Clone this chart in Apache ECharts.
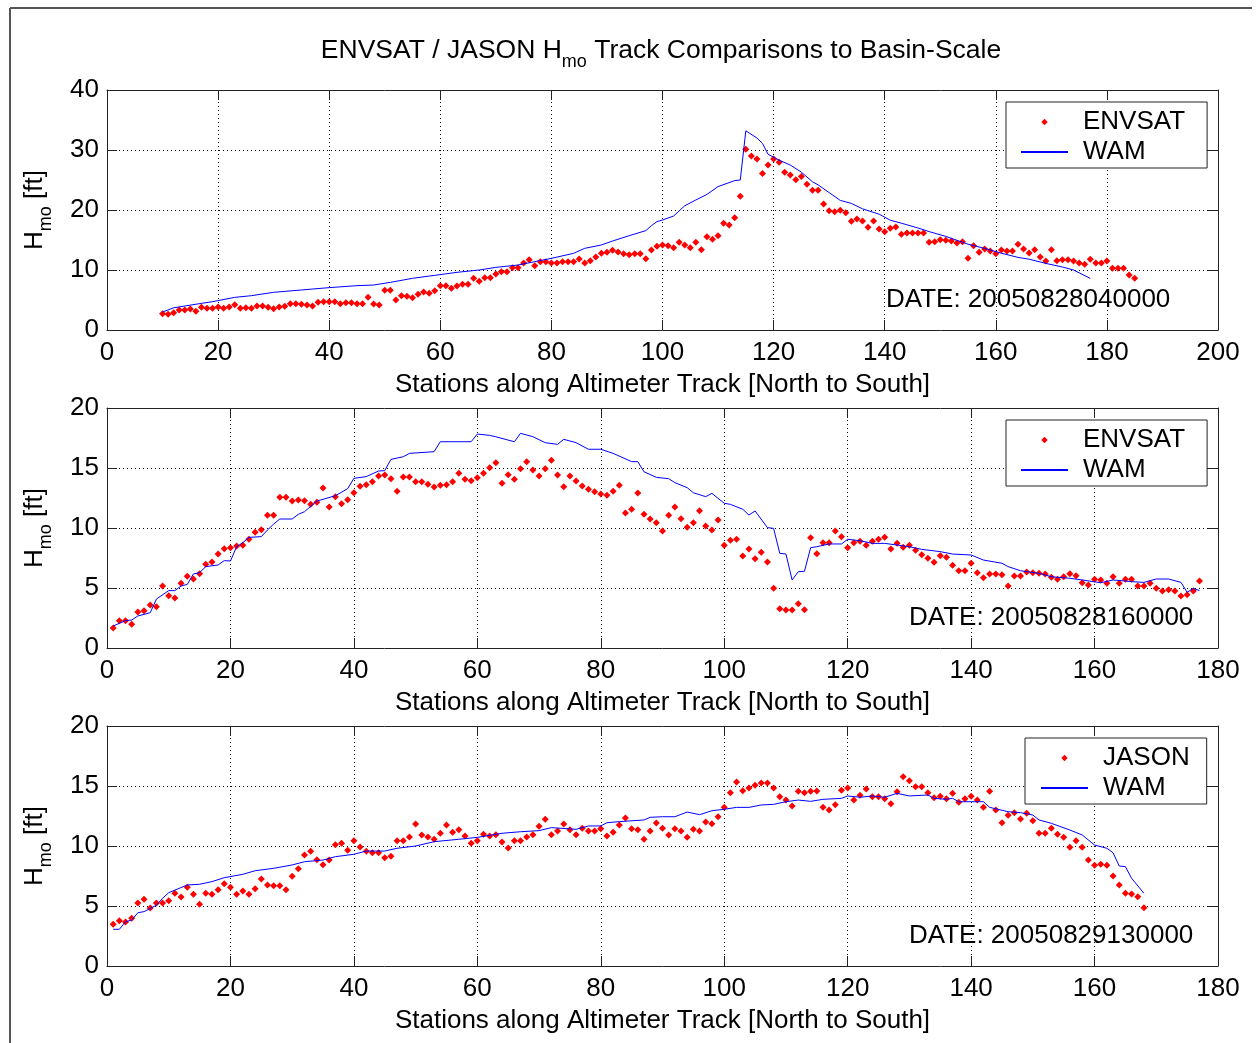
<!DOCTYPE html>
<html>
<head>
<meta charset="utf-8">
<title>ENVSAT / JASON Hmo Track Comparisons</title>
<script src="https://cdn.jsdelivr.net/npm/echarts@6/dist/echarts.min.js"></script>
<style>
html, body { margin: 0; padding: 0; background: #fff; }
#main { width: 1257px; height: 1043px; }
</style>
</head>
<body>
<div id="main"></div>
<script>
// ---- data (station index, Hmo in ft) ----
var env1Start = 10;
var env1 = [2.72, 2.61, 2.89, 3.33, 3.33, 3.5, 3.11, 3.78, 3.61, 3.61,
    3.83, 3.61, 3.83, 4.22, 3.61, 3.72, 3.61, 4.0, 4.0, 3.78,
    3.56, 3.83, 3.94, 4.39, 4.39, 4.28, 4.17, 4.0, 4.61, 4.72,
    4.72, 4.72, 4.39, 4.56, 4.56, 4.39, 4.39, 5.44, 4.33, 4.17,
    6.61, 6.61, 5.0, 5.72, 5.61, 5.39, 5.94, 6.33, 6.11, 6.56,
    7.39, 7.39, 6.94, 7.33, 7.61, 7.61, 8.61, 8.11, 8.72, 8.72,
    9.33, 9.72, 9.72, 10.39, 10.39, 11.17, 11.72, 10.72, 11.39, 11.39,
    11.17, 11.17, 11.39, 11.39, 11.39, 11.83, 11.17, 11.56, 12.17, 12.78,
    12.94, 13.28, 13.0, 12.72, 12.56, 12.72, 12.72, 11.89, 13.33, 13.94,
    14.17, 14.06, 13.72, 14.61, 14.17, 13.72, 14.61, 13.39, 15.56, 15.11,
    15.72, 17.78, 17.5, 18.72, 22.28, 30.11, 29.0, 28.5, 26.1, 27.5,
    28.5, 27.94, 26.28, 25.83, 25.06, 25.6, 24.28, 23.28, 23.28, 21.0,
    19.89, 19.72, 19.94, 19.56, 18.11, 18.5, 18.17, 17.11, 18.17, 16.83,
    16.39, 16.94, 17.17, 15.94, 16.17, 16.17, 16.17, 16.17, 14.61, 14.72,
    15.06, 14.94, 14.83, 14.5, 14.72, 11.94, 14.06, 12.94, 13.5, 13.17,
    12.72, 13.33, 13.17, 13.17, 14.28, 13.5, 12.83, 13.39, 12.17, 11.5,
    13.39, 11.56, 11.72, 11.72, 11.5, 11.17, 10.94, 11.78, 11.17, 11.17,
    11.5, 10.28, 10.28, 10.28, 9.17, 8.61];
var wam1 = [[10, 3.0], [12, 3.7], [17, 4.44], [19, 4.72], [23, 5.44], [26, 5.72], [30, 6.28],
    [35, 6.67], [40, 7.06], [45, 7.39], [48, 7.5], [51, 7.94], [55, 8.61], [59, 9.11],
    [63, 9.61], [67, 10.0], [70, 10.44], [74, 10.83], [77, 11.39], [80, 11.94], [84, 12.78],
    [86, 13.61], [89, 14.17], [91, 14.83], [94, 15.72], [97, 16.56], [98, 17.39], [99, 18.06],
    [100, 18.33], [102, 19.0], [104, 20.7], [106, 21.67], [108, 22.6], [110, 23.9], [113, 24.9],
    [114, 25.0], [115, 33.2], [117, 32.0], [118, 31.1], [119, 29.3], [121, 28.3], [123, 27.5],
    [125, 26.3], [127, 24.7], [128, 24.2], [130, 22.9], [132, 21.6], [134, 21.1], [136, 20.2],
    [139, 19.3], [141, 18.3], [143, 17.8], [146, 17.0], [148, 16.4], [151, 15.6], [155, 14.3],
    [158, 13.6], [161, 12.8], [164, 12.1], [166, 11.8], [169, 11.1], [172, 10.5], [174, 10.0],
    [177, 8.6]];

var env2Start = 1;
var env2 = [1.67, 2.28, 2.28, 1.97, 3.0, 3.11, 3.58, 3.44, 5.17, 4.36,
    4.17, 5.39, 5.97, 5.75, 6.19, 6.97, 7.17, 7.83, 8.28, 8.36,
    8.5, 8.56, 9.06, 9.64, 9.86, 11.06, 11.06, 12.56, 12.56, 12.25,
    12.33, 12.28, 11.97, 12.14, 13.33, 11.75, 12.61, 12.03, 12.36, 12.94,
    13.47, 13.61, 13.86, 14.33, 14.42, 14.11, 13.06, 14.25, 14.25, 13.86,
    13.86, 13.64, 13.42, 13.56, 13.61, 13.86, 14.56, 14.06, 13.94, 14.19,
    14.56, 15.03, 15.44, 13.72, 14.44, 14.06, 14.94, 15.53, 14.83, 14.33,
    14.94, 15.64, 14.42, 13.44, 14.33, 13.92, 13.5, 13.22, 13.03, 12.83,
    12.72, 13.06, 13.56, 11.25, 11.56, 12.92, 11.14, 10.75, 10.44, 9.75,
    11.06, 11.75, 10.78, 10.06, 10.44, 11.44, 10.17, 9.83, 10.67, 8.56,
    8.97, 9.06, 7.67, 8.25, 7.44, 7.97, 7.17, 4.97, 3.28, 3.17,
    3.17, 3.69, 3.19, 9.19, 7.86, 8.78, 8.78, 9.75, 9.28, 8.36,
    8.78, 8.89, 8.56, 8.89, 9.06, 9.22, 8.25, 8.72, 8.39, 8.56,
    8.14, 7.78, 7.47, 7.14, 7.69, 7.56, 6.89, 6.44, 6.44, 7.06,
    6.28, 5.86, 6.17, 6.17, 6.11, 5.17, 6.0, 6.0, 6.33, 6.28,
    6.22, 6.17, 5.89, 5.72, 5.94, 6.19, 6.03, 5.44, 5.25, 5.72,
    5.67, 5.39, 5.94, 5.39, 5.72, 5.72, 5.17, 5.17, 5.39, 4.97,
    4.75, 4.86, 4.75, 4.33, 4.44, 4.75, 5.58];
var wam2 = [[1, 1.83], [3, 2.28], [4, 2.33], [5, 2.67], [7, 2.94], [8, 4.08], [10, 4.78], [11, 4.78],
    [12, 5.17], [13, 5.3], [14, 6.17], [15, 6.28], [16, 6.78], [18, 6.92], [19, 7.28], [20, 7.25],
    [21, 8.44], [22, 8.78], [23, 9.22], [25, 9.28], [26, 9.83], [27, 10.33], [28, 10.75], [30, 10.75],
    [31, 11.14], [32, 11.36], [34, 12.25], [35, 12.39], [37, 12.69], [39, 13.28], [40, 14.14],
    [42, 14.28], [44, 14.75], [45, 14.78], [46, 15.72], [48, 15.94], [49, 16.22], [53, 16.36],
    [54, 17.19], [59, 17.19], [60, 17.83], [62, 17.72], [63, 17.6], [66, 17.19], [67, 17.89],
    [69, 17.61], [71, 17.11], [73, 16.97], [74, 17.39], [76, 17.11], [78, 16.56], [80, 16.56],
    [82, 16.22], [85, 15.53], [86, 15.53], [87, 14.69], [89, 14.22], [91, 14.11], [92, 13.78],
    [94, 13.36], [95, 12.94], [97, 12.61], [98, 12.89], [100, 12.06], [101, 11.97], [103, 11.56],
    [104, 11.08], [105, 11.42], [107, 10.03], [108, 9.97], [109, 7.89], [110, 7.83], [111, 5.67],
    [112, 6.36], [113, 6.39], [114, 8.36], [115, 8.44], [117, 8.67], [119, 8.67], [120, 9.06],
    [122, 8.94], [124, 8.72], [126, 8.72], [130, 8.44], [132, 8.22], [135, 8.03], [137, 7.83],
    [140, 7.75], [142, 7.33], [145, 7.06], [146, 6.78], [148, 6.44], [151, 6.22], [153, 5.94],
    [156, 5.81], [158, 5.67], [161, 5.44], [163, 5.67], [166, 5.53], [168, 5.47], [170, 5.75],
    [172, 5.75], [174, 5.47], [175, 4.64], [176, 4.97], [177, 4.78]];

var jas3Start = 1;
var jas3 = [3.47, 3.78, 3.67, 3.97, 5.25, 5.56, 4.83, 5.25, 5.25, 5.44,
    6.06, 5.75, 6.56, 5.97, 5.14, 6.06, 5.97, 6.36, 6.86, 6.56,
    5.97, 6.25, 5.97, 6.44, 7.25, 6.75, 6.69, 6.69, 6.36, 7.47,
    8.11, 9.25, 9.56, 8.86, 8.44, 8.83, 10.11, 10.22, 9.64, 10.44,
    9.92, 9.56, 9.44, 9.44, 9.03, 9.14, 10.44, 10.44, 10.75, 11.83,
    10.92, 10.75, 10.56, 11.06, 11.75, 11.14, 11.36, 10.83, 10.22, 10.44,
    10.97, 10.83, 10.94, 10.33, 9.83, 10.44, 10.44, 10.75, 10.94, 11.64,
    12.22, 10.94, 11.25, 11.83, 11.36, 10.94, 11.47, 11.25, 11.25, 11.44,
    10.83, 11.14, 11.75, 12.33, 11.44, 11.36, 10.56, 11.25, 11.92, 11.47,
    10.92, 11.44, 11.25, 10.72, 11.39, 11.25, 12.0, 11.86, 12.44, 13.22,
    14.44, 15.33, 14.61, 14.83, 15.06, 15.25, 15.25, 14.83, 14.11, 13.83,
    13.33, 14.56, 14.44, 14.56, 14.58, 13.22, 13.0, 13.44, 14.64, 14.83,
    13.83, 14.22, 14.75, 14.11, 14.11, 13.94, 13.53, 14.53, 15.78, 15.44,
    14.94, 14.94, 14.44, 14.03, 14.14, 13.94, 14.39, 13.64, 13.94, 14.14,
    13.83, 13.22, 14.56, 13.0, 11.94, 12.56, 12.78, 12.25, 12.72, 12.11,
    11.06, 11.06, 11.47, 10.97, 10.72, 9.89, 10.44, 9.89, 8.83, 8.39,
    8.47, 8.39, 7.5, 6.75, 6.06, 6.0, 5.78, 4.86];
var wam3 = [[1, 3.06], [2, 3.06], [3, 3.69], [4, 3.83], [5, 4.44], [6, 4.53], [8, 5.06], [9, 5.64],
    [10, 6.11], [13, 6.75], [15, 6.81], [17, 7.03], [19, 7.36], [22, 7.64], [24, 7.94], [27, 8.14],
    [30, 8.42], [32, 8.69], [35, 8.83], [37, 9.11], [40, 9.31], [42, 9.58], [45, 9.58], [47, 9.81],
    [50, 10.0], [53, 10.36], [57, 10.56], [60, 10.72], [64, 11.06], [67, 11.19], [70, 11.28],
    [72, 11.53], [76, 11.39], [78, 11.67], [80, 11.67], [81, 11.94], [83, 12.03], [87, 12.17],
    [88, 12.39], [90, 12.44], [92, 12.44], [94, 12.83], [96, 12.61], [98, 12.94], [100, 13.06],
    [102, 13.22], [104, 13.22], [106, 13.42], [108, 13.47], [110, 13.69], [112, 13.83], [114, 13.72],
    [116, 13.89], [119, 13.97], [120, 14.17], [122, 14.06], [124, 14.17], [126, 14.06], [128, 14.39],
    [130, 14.17], [133, 14.25], [134, 13.97], [136, 13.89], [137, 13.97], [138, 13.69], [142, 13.69],
    [143, 13.22], [146, 12.86], [148, 12.78], [150, 12.58], [151, 12.17], [153, 11.89], [156, 11.33],
    [158, 10.92], [160, 10.08], [162, 9.81], [163, 9.44], [164, 8.33], [165, 8.28], [166, 7.31],
    [168, 6.06]];

var xTicks1 = {max: 200, interval: 20};
var xTicks23 = {max: 180, interval: 20};
var yTicks1 = {max: 40, interval: 10};
var yTicks23 = {max: 20, interval: 5};
var dates = ['DATE: 20050828040000', 'DATE: 20050828160000', 'DATE: 20050829130000'];

var FONT = '"Liberation Sans", Arial, Helvetica, sans-serif';
var AXIS_COLOR = '#222';

function stationPairs(start, vals) {
    return vals.map(function (v, i) { return [start + i, v]; });
}

var chart = echarts.init(document.getElementById('main'));

var tops = [90, 408, 726];
var grids = [], xAxes = [], yAxes = [], series = [], legends = [], graphics = [];

function addPanel(i, xt, yt, dotName, dots, wam, legendLeft, legendPadRight, datePos) {
    grids.push({left: 107, top: tops[i], width: 1111, height: 240, show: false, outerBoundsMode: 'none'});
    var line = {show: true, onZero: false, lineStyle: {color: AXIS_COLOR, width: 1}};
    var tick = {show: true, inside: true, length: 10, lineStyle: {color: AXIS_COLOR, width: 1}};
    xAxes.push({
        gridIndex: i, type: 'value', position: 'bottom', min: 0, max: xt.max, interval: xt.interval,
        name: 'Stations along Altimeter Track [North to South]', nameLocation: 'middle', nameGap: 42,
        nameTextStyle: {fontSize: 26, color: '#000', fontFamily: FONT},
        axisLine: line, axisTick: tick,
        axisLabel: {fontSize: 26, color: '#000', margin: 10, fontFamily: FONT, showMinLabel: true, showMaxLabel: true},
        splitLine: {show: true, lineStyle: {color: '#000', width: 1, type: [1, 3]}}
    });
    xAxes.push({
        gridIndex: i, type: 'value', position: 'top', min: 0, max: xt.max, interval: xt.interval,
        axisLine: line, axisTick: tick, axisLabel: {show: false}, splitLine: {show: false}
    });
    yAxes.push({
        gridIndex: i, type: 'value', position: 'left', min: 0, max: yt.max, interval: yt.interval,
        name: '{h|H}{s|mo}{h| [ft]}', nameLocation: 'middle', nameRotate: 90, nameGap: 52,
        nameTextStyle: {
            rich: {
                h: {fontSize: 26, lineHeight: 40, color: '#000', fontFamily: FONT},
                s: {fontSize: 18, lineHeight: 18, verticalAlign: 'bottom', color: '#000', fontFamily: FONT}
            }
        },
        axisLine: line, axisTick: tick,
        axisLabel: {fontSize: 26, color: '#000', margin: 8, fontFamily: FONT, showMinLabel: true, showMaxLabel: true},
        splitLine: {show: true, lineStyle: {color: '#000', width: 1, type: [1, 3]}}
    });
    yAxes.push({
        gridIndex: i, type: 'value', position: 'right', min: 0, max: yt.max, interval: yt.interval,
        axisLine: line, axisTick: tick, axisLabel: {show: false}, splitLine: {show: false}
    });
    // altimeter samples: markers only
    series.push({
        name: dotName, type: 'line', xAxisIndex: 2 * i, yAxisIndex: 2 * i,
        data: dots, symbol: 'diamond', symbolSize: 7, showSymbol: true,
        lineStyle: {opacity: 0}, itemStyle: {color: '#ff0000'},
        emphasis: {disabled: true}, silent: true, z: 2
    });
    series.push({
        name: 'WAM', type: 'line', xAxisIndex: 2 * i, yAxisIndex: 2 * i,
        data: wam, symbol: 'none', lineStyle: {color: '#0000ff', width: 1}, itemStyle: {color: '#0000ff'},
        emphasis: {disabled: true}, silent: true, z: 3
    });
    legends.push({
        orient: 'vertical', left: legendLeft, top: tops[i] + 12,
        data: [{name: dotName}, {name: 'WAM', itemStyle: {opacity: 0}}],
        itemWidth: 47, itemHeight: 8, itemGap: 4, padding: [7, legendPadRight, 3, legendLeft === 1006 ? 14 : 15],
        borderColor: AXIS_COLOR, borderWidth: 1, backgroundColor: '#fff', selectedMode: false,
        textStyle: {fontSize: 26, color: '#000', fontFamily: FONT, padding: [0, 0, 0, 10]}
    });
    graphics.push({
        type: 'text', x: datePos[0], y: datePos[1], z: 10,
        style: {text: dates[i], fontSize: 26, fontFamily: FONT, fill: '#000', align: 'left', verticalAlign: 'middle'}
    });
}

addPanel(0, xTicks1, yTicks1, 'ENVSAT', stationPairs(env1Start, env1), wam1, 1006, 22, [886, 300]);
addPanel(1, xTicks23, yTicks23, 'ENVSAT', stationPairs(env2Start, env2), wam2, 1006, 22, [909, 618]);
addPanel(2, xTicks23, yTicks23, 'JASON', stationPairs(jas3Start, jas3), wam3, 1025, 17, [909, 936]);

// figure title with subscript, plus the figure frame
graphics.push({
    type: 'text', x: 661, y: 51, z: 10,
    style: {
        text: '{a|ENVSAT / JASON H}{b|mo}{a| Track Comparisons to Basin-Scale}',
        align: 'center', verticalAlign: 'middle',
        rich: {
            a: {fontSize: 26.5, lineHeight: 40, fontFamily: FONT, fill: '#000'},
            b: {fontSize: 18, lineHeight: 18, verticalAlign: 'bottom', fontFamily: FONT, fill: '#000'}
        }
    }
});
graphics.push({type: 'line', shape: {x1: 10, y1: 8, x2: 1252, y2: 8}, style: {stroke: '#555', lineWidth: 2}});
graphics.push({type: 'line', shape: {x1: 10, y1: 8, x2: 10, y2: 1043}, style: {stroke: '#555', lineWidth: 2}});

chart.setOption({
    animation: false,
    backgroundColor: '#fff',
    grid: grids,
    xAxis: xAxes,
    yAxis: yAxes,
    legend: legends,
    series: series,
    graphic: graphics
});
</script>
</body>
</html>
